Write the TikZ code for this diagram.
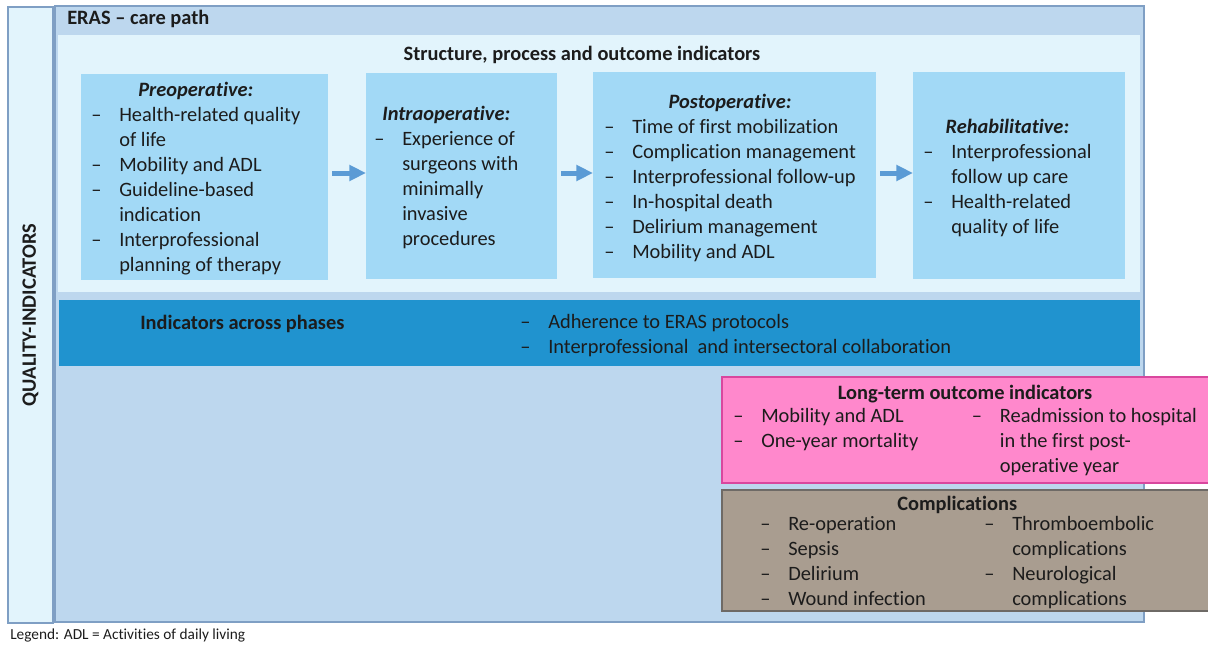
\documentclass[tikz,border=0pt]{standalone}
\usepackage{fontspec}
\setmainfont{Carlito}[Ligatures=NoCommon]
\usepackage{array}
\usetikzlibrary{arrows.meta,fit}

\definecolor{frameblue}{HTML}{BDD7EE}
\definecolor{paleblue}{HTML}{E2F4FC}
\definecolor{phaseblue}{HTML}{A2D9F6}
\definecolor{bandblue}{HTML}{2093CF}
\definecolor{arrowblue}{HTML}{5B9BD5}
\definecolor{edgeblue}{HTML}{7F9FC4}
\definecolor{pinkfill}{HTML}{FF88CC}
\definecolor{pinkedge}{HTML}{D9479E}
\definecolor{brownfill}{HTML}{A99D90}
\definecolor{brownedge}{HTML}{6E6A66}
\definecolor{ink}{HTML}{1C1C1C}

% body text on a 25px (18.75pt) grid
\newcommand{\bodyfont}{\fontsize{15.3}{18.75}\selectfont}
\newcolumntype{D}{@{}p{21pt}@{}}

\tikzset{
  area/.style={inner sep=0pt, outer sep=0pt},
  framebox/.style={area, fill=frameblue, draw=edgeblue, line width=0.8pt},
  sidebar/.style={area, fill=paleblue, draw=edgeblue, line width=0.8pt},
  innerbox/.style={area, fill=paleblue},
  phasebox/.style={area, fill=phaseblue},
  bandbox/.style={area, fill=bandblue},
  pinkbox/.style={area, fill=pinkfill, draw=pinkedge, line width=0.8pt},
  brownbox/.style={area, fill=brownfill, draw=brownedge, line width=0.8pt},
  txt/.style={inner sep=0pt, text=ink, font=\bodyfont},
  heading/.style={txt, font=\bodyfont\bfseries},
  flow/.style={draw=arrowblue, line width=3.75pt,
    -{Triangle[length=12.5pt,width=11.5pt]}, shorten <=1.5pt},
}

\begin{document}
\begin{tikzpicture}[x=0.75pt, y=-0.75pt]
\useasboundingbox (0,0) rectangle (1208,646);

% frames
\node[sidebar, fit={(8,7)(53,623)}] (side) {};
\node[framebox, fit={(55,6)(1144,622)}] (eras) {};
\node[innerbox, fit={(58,35)(1140,292)}] (inner) {};

% phase boxes
\node[phasebox, fit={(81,74)(328,280)}] (pre) {};
\node[phasebox, fit={(366,73)(557,279)}] (intra) {};
\node[phasebox, fit={(593,72)(876,278)}] (post) {};
\node[phasebox, fit={(913,72)(1125,279)}] (rehab) {};

% band and outcome boxes
\node[bandbox, fit={(59,300)(1140,366)}] (band) {};
\node[pinkbox, fit={(722,377)(1210,483)}] (longterm) {};
\node[brownbox, fit={(722,490)(1210,611)}] (compl) {};

% arrows between phases
\draw[flow] (330,173) coordinate (a1) -- (a1 -| intra.west);
\draw[flow] (559,173) coordinate (a2) -- (a2 -| post.west);
\draw[flow] (878,173) coordinate (a3) -- (a3 -| rehab.west);

% titles
\node[heading, rotate=90] (qi) at (side.center |- 0,315) {QUALITY-INDICATORS};
\node[heading, anchor=west] (erastitle) at (67,19) {ERAS – care path};
\node[heading] (spo) at (582,55) {Structure, process and outcome indicators};

% phase contents
\node[txt, anchor=west] (pretext) at (91,179) {%
\begin{tabular}{D l@{}}
\multicolumn{2}{c}{\textbf{\textit{Preoperative:}}}\\
– & Health-related quality\\
  & of life\\
– & Mobility and ADL\\
– & Guideline-based\\
  & indication\\
– & Interprofessional\\
  & planning of therapy
\end{tabular}};

\node[txt, anchor=west] (intratext) at (374,178) {%
\begin{tabular}{D l@{}}
\multicolumn{2}{c}{\textbf{\textit{Intraoperative:}}}\\
– & Experience of\\
  & surgeons with\\
  & minimally\\
  & invasive\\
  & procedures
\end{tabular}};

\node[txt, anchor=west] (posttext) at (604,178) {%
\begin{tabular}{D l@{}}
\multicolumn{2}{c}{\textbf{\textit{Postoperative:}}}\\
– & Time of first mobilization\\
– & Complication management\\
– & Interprofessional follow-up\\
– & In-hospital death\\
– & Delirium management\\
– & Mobility and ADL
\end{tabular}};

\node[txt, anchor=west] (rehabtext) at (923,178) {%
\begin{tabular}{D l@{}}
\multicolumn{2}{c}{\textbf{\textit{Rehabilitative:}}}\\
– & Interprofessional\\
  & follow up care\\
– & Health-related\\
  & quality of life
\end{tabular}};

% indicators across phases
\node[heading, anchor=west] (across) at (140,324) {Indicators across phases};
\node[txt, anchor=west] (acrosstext) at (520,336) {%
\begin{tabular}{D l@{}}
– & Adherence to ERAS protocols\\
– & Interprofessional\ \ and intersectoral collaboration
\end{tabular}};

% long-term outcomes
\node[txt, anchor=west] (longtext) at (733,431) {%
\begin{tabular}{D p{158pt}D l@{}}
\multicolumn{4}{c}{\textbf{Long-term outcome indicators}}\\[-2.2pt]
– & Mobility and ADL & – & Readmission to hospital\\
– & One-year mortality &  & in the first post-\\
  &                    &  & operative year
\end{tabular}};

% complications
\node[txt, anchor=west] (compltext) at (760,553) {%
\begin{tabular}{D p{147pt}D l@{}}
\multicolumn{4}{c}{\textbf{Complications}}\\[-4pt]
– & Re-operation    & – & Thromboembolic\\
– & Sepsis          &   & complications\\
– & Delirium        & – & Neurological\\
– & Wound infection &   & complications
\end{tabular}};

% legend
\node[txt, font=\fontsize{11.5}{13}\selectfont, anchor=west] (legend) at (10,635)
  {Legend: ADL = Activities of daily living};
\end{tikzpicture}
\end{document}
